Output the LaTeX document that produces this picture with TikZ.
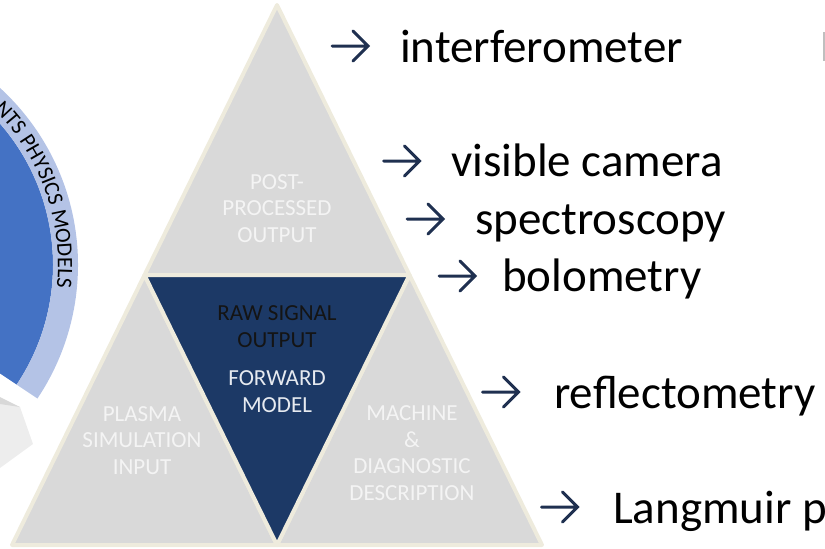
\documentclass[tikz,border=0pt]{standalone}
\usepackage{fontspec}
\setmainfont{Carlito}
\usetikzlibrary{decorations.text}

\definecolor{panelgray}{HTML}{D9D9D9}
\definecolor{panelnavy}{HTML}{1C3966}
\definecolor{seam}{HTML}{EEEBDD}
\definecolor{discblue}{HTML}{4472C4}
\definecolor{bandblue}{HTML}{B4C3E6}
\definecolor{bulletink}{HTML}{1F3050}
\definecolor{paletext}{HTML}{F4F4F4}
\definecolor{rawtext}{HTML}{141414}
\definecolor{fwdtext}{HTML}{E6EAF0}
\definecolor{arrowgray}{HTML}{EDEDED}
\definecolor{arrowshade}{HTML}{D8D8D8}
\definecolor{edgegray}{HTML}{BFBFBF}

\tikzset{
  panel/.style={fill=#1, draw=seam, line width=4pt, line join=round},
  % anchor=base sits on the baseline of the last line
  panellabel/.style={anchor=base, align=center, inner sep=0pt,
    font=\fontsize{23}{26.5}\selectfont, text=paletext},
  itemlabel/.style={anchor=base west, inner sep=0pt,
    font=\fontsize{47}{50}\selectfont, text=black},
  itemarrow/.pic={
    \draw[bulletink, line width=3pt, line cap=round, line join=miter]
      (-18,0) -- (18,0) (3,-15) -- (18,0) -- (3,15);
  }
}

\begin{document}
\begin{tikzpicture}[x=1pt, y=-1pt]
\useasboundingbox (0,0) rectangle (825,549);

% cycle segment on the left: blue disc and light outer band
\fill[discblue, shift={(-162,265)}]
  (0,0) -- (-85:215) arc[start angle=-85, end angle=33.8, radius=215] -- cycle;
\fill[bandblue, shift={(-162,265)}]
  (-85:240) arc[start angle=-85, end angle=33.8, radius=240]
  -- (33.8:215) arc[start angle=33.8, end angle=-85, radius=215] -- cycle;
\path[shift={(-162,265)}, decorate,
  decoration={text along path, text align=left,
    text={|\fontsize{22}{22}\selectfont\color{black}|NTS PHYSICS MODELS}}]
  (-45:220) arc[start angle=-45, end angle=14, radius=220];

% light grey arrow head at the lower left
\fill[arrowgray] (0,400) -- (20,407) -- (33,444) -- (0,468) -- cycle;
\fill[arrowshade] (0,397) -- (20,407) -- (0,404) -- cycle;

% pyramid corners
\coordinate (apex) at (277,5);
\coordinate (ml) at (144.5,275);
\coordinate (mr) at (409.5,275);
\coordinate (bl) at (12,545);
\coordinate (bm) at (277,545);
\coordinate (br) at (542,545);

\filldraw[panel=panelgray] (apex) -- (ml) -- (mr) -- cycle;
\filldraw[panel=panelgray] (ml) -- (bl) -- (bm) -- cycle;
\filldraw[panel=panelgray] (mr) -- (bm) -- (br) -- cycle;
\filldraw[panel=panelnavy] (ml) -- (mr) -- (bm) -- cycle;

\node[panellabel] (post) at (277,242) {POST-\\PROCESSED\\OUTPUT};
\node[panellabel, text=rawtext] (raw) at (277,347) {RAW SIGNAL\\OUTPUT};
\node[panellabel, text=fwdtext] (fwd) at (277,412) {FORWARD\\MODEL};
\node[panellabel] (plasma) at (142,474) {PLASMA\\SIMULATION\\INPUT};
\node[panellabel] (machine) at (412,500) {MACHINE\\\&\\DIAGNOSTIC\\DESCRIPTION};

% diagnostics list
\pic at (350,46) {itemarrow};
\node[itemlabel] (interf) at (400,62) {interferometer};
\pic at (401.5,161) {itemarrow};
\node[itemlabel] (vis) at (451,176) {visible camera};
\pic at (425,219) {itemarrow};
\node[itemlabel] (spec) at (475,234) {spectroscopy};
\pic at (457,276) {itemarrow};
\node[itemlabel] (bolo) at (502,291) {bolometry};
\pic at (500.5,392) {itemarrow};
\node[itemlabel] (refl) at (554,408) {reflectometry};
\pic at (559.5,507) {itemarrow};
\node[itemlabel] (lang) at (613,523) {Langmuir p};

% stem of a grey letter cut by the right edge
\fill[edgegray] (822.5,32) rectangle (825,61);
\end{tikzpicture}
\end{document}
